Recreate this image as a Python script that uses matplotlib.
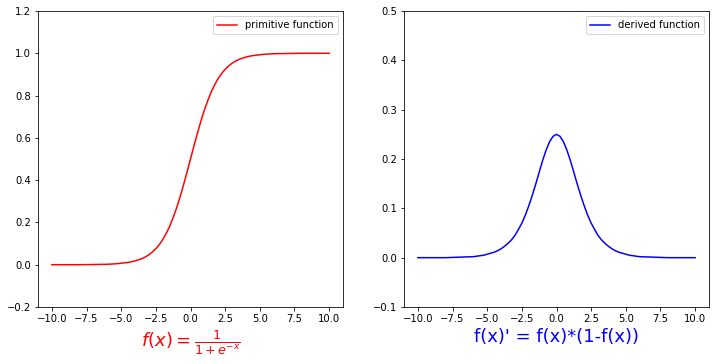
import matplotlib
matplotlib.use('Agg')
import matplotlib.pyplot as plt

# values
x_vals = [-10, -9, -8, -7, -6, -5.75, -5.5, -5.25, -5, -4.75, -4.5, -4.25,
          -4, -3.75, -3.5, -3.25, -3, -2.75, -2.5, -2.25, -2, -1.75, -1.5,
          -1.25, -1, -0.75, -0.5, -0.25, 0, 0.25, 0.5, 0.75, 1, 1.25, 1.5,
          1.75, 2, 2.25, 2.5, 2.75, 3, 3.25, 3.5, 3.75, 4, 4.25, 4.5, 4.75,
          5, 5.25, 5.5, 5.75, 6, 7, 8, 9, 10]

primitive = [0.000, 0.000, 0.000, 0.001, 0.002, 0.003, 0.004, 0.005, 0.007,
             0.009, 0.011, 0.014, 0.018, 0.023, 0.029, 0.037, 0.047, 0.060,
             0.076, 0.095, 0.119, 0.148, 0.182, 0.223, 0.269, 0.321, 0.378,
             0.438, 0.500, 0.562, 0.622, 0.679, 0.731, 0.777, 0.818, 0.852,
             0.881, 0.905, 0.924, 0.940, 0.953, 0.963, 0.971, 0.977, 0.982,
             0.986, 0.989, 0.991, 0.993, 0.995, 0.996, 0.997, 0.998, 0.999,
             1.000, 1.000, 1.000]

derived = [0.000, 0.000, 0.000, 0.001, 0.002, 0.003, 0.004, 0.005, 0.007,
           0.009, 0.011, 0.014, 0.018, 0.023, 0.029, 0.036, 0.045, 0.057,
           0.070, 0.086, 0.105, 0.126, 0.149, 0.173, 0.197, 0.218, 0.235,
           0.246, 0.250, 0.246, 0.235, 0.218, 0.197, 0.173, 0.149, 0.126,
           0.105, 0.086, 0.070, 0.057, 0.045, 0.036, 0.029, 0.023, 0.018,
           0.014, 0.011, 0.009, 0.007, 0.005, 0.004, 0.003, 0.002, 0.001,
           0.000, 0.000, 0.000]

W, H = 718, 364
fig = plt.figure(figsize=(W / 72, H / 72), dpi=72)

# left: sigmoid
ax1 = fig.add_axes([38 / W, 1 - 307 / H, 305 / W, 296 / H])
ax1.plot(x_vals, primitive, color='r', label='primitive function')
ax1.set_ylim(-0.2, 1.2)
ax1.set_xticks([-10, -7.5, -5, -2.5, 0, 2.5, 5, 7.5, 10])
ax1.set_xlabel(r'$f(x)=\frac{1}{1+e^{-x}}$', color='r', fontsize=18)
ax1.legend(loc='upper right')

# right: derivative
ax2 = fig.add_axes([404 / W, 1 - 307 / H, 305 / W, 296 / H])
ax2.plot(x_vals, derived, color='b', label='derived function')
ax2.set_ylim(-0.1, 0.5)
ax2.set_xticks([-10, -7.5, -5, -2.5, 0, 2.5, 5, 7.5, 10])
ax2.set_xlabel("f(x)' = f(x)*(1-f(x))", color='b', fontsize=18)
ax2.legend(loc='upper right')

fig.savefig('out.png', dpi=72)
